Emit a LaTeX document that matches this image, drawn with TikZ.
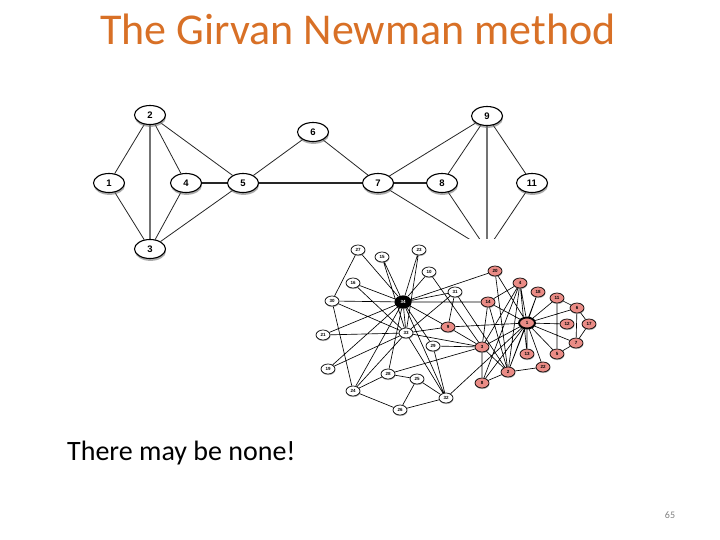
\documentclass[tikz,border=0pt]{standalone}
\usepackage{fontspec}
\setmainfont{Carlito}
\newfontfamily\lblfont{Liberation Sans}
\usepackage{xcolor}
\usepackage{tikz}
\usetikzlibrary{shapes.geometric, shadows, backgrounds}
\definecolor{titleorange}{RGB}{216,112,38}
\definecolor{clubred}{RGB}{234,140,134}

\begin{document}
\begin{tikzpicture}[
      x=1pt, y=-1pt,
      vtx/.style={ellipse, draw=black, fill=white, line width=1.1pt, minimum width=31pt,
        minimum height=19pt, inner sep=0pt, font=\lblfont\bfseries\fontsize{9.5}{9.5}\selectfont,
        drop shadow={shadow xshift=0.5pt, shadow yshift=-2.4pt, fill=black!55, opacity=.6}},
      kw/.style={ellipse, draw=black, fill=white, line width=0.7pt, minimum width=14pt,
        minimum height=10pt, inner sep=0pt, font=\lblfont\bfseries\fontsize{4.5}{4.5}\selectfont,
        drop shadow={shadow xshift=0.4pt, shadow yshift=-1.1pt, fill=black!50, opacity=.55}},
      kr/.style={kw, fill=clubred},
      lnk/.style={draw=black!85, line width=0.8pt},
      bold/.style={draw=black!85, line width=1.3pt},
      heavy/.style={draw=black!55, line width=1.9pt},
      klnk/.style={draw=black, line width=0.65pt}
    ]
      \useasboundingbox (0,0) rectangle (720,540);
      \node[font=\fontsize{44}{44}\selectfont, text=titleorange, anchor=base] (title) at (358,45) {The Girvan Newman method};
      \node[font=\fontsize{28}{28}\selectfont, anchor=base west, inner sep=0pt] (note) at (67,460) {There may be none!};
      \node[font=\fontsize{10}{10}\selectfont, text=black!50, anchor=base] (pg) at (670,518) {65};

      \node[vtx] (n1) at (109,183) {1};
      \node[vtx] (n2) at (150,115) {2};
      \node[vtx] (n3) at (150,249) {3};
      \node[vtx] (n4) at (186,183) {4};
      \node[vtx] (n5) at (243,183) {5};
      \node[vtx] (n6) at (313,132) {6};
      \node[vtx] (n7) at (378,183) {7};
      \node[vtx] (n8) at (442,183) {8};
      \node[vtx] (n9) at (487,116) {9};
      \node[vtx] (n11) at (532,183) {11};
      \coordinate (n10) at (487,250);

      \node[kr, line width=1.9pt, minimum width=16pt, minimum height=11pt] (k1) at (527,323) {1};
      \node[kr] (k2) at (508,372) {2};
      \node[kr] (k3) at (482,347) {3};
      \node[kr] (k4) at (520,283) {4};
      \node[kr] (k5) at (557,354) {5};
      \node[kr] (k6) at (577,308) {6};
      \node[kr] (k7) at (576,343) {7};
      \node[kr] (k8) at (482,383) {8};
      \node[kr] (k9) at (448,327) {9};
      \node[kw] (k10) at (429,272) {10};
      \node[kr] (k11) at (557,298) {11};
      \node[kr] (k12) at (567,324) {12};
      \node[kr] (k13) at (527,354) {13};
      \node[kr] (k14) at (488,302) {14};
      \node[kw] (k15) at (382,257) {15};
      \node[kw] (k16) at (353,283) {16};
      \node[kr] (k17) at (589,324) {17};
      \node[kr] (k18) at (538,292) {18};
      \node[kw] (k19) at (328,369) {19};
      \node[kr] (k20) at (495,271) {20};
      \node[kw] (k21) at (323,335) {21};
      \node[kr] (k22) at (543,367) {22};
      \node[kw] (k23) at (419,250) {23};
      \node[kw] (k24) at (353,391) {24};
      \node[kw] (k25) at (417,379) {25};
      \node[kw] (k26) at (400,410) {26};
      \node[kw] (k27) at (358,250) {27};
      \node[kw] (k28) at (388,374) {28};
      \node[kw] (k29) at (433,346) {29};
      \node[kw] (k30) at (332,301) {30};
      \node[kw] (k31) at (455,292) {31};
      \node[kw] (k32) at (446,398) {32};
      \node[kw] (k33) at (406,333) {33};
      \node[kw, fill=black, text=white, line width=1.2pt, minimum width=16pt, minimum height=12pt] (k34) at (403,302) {34};

      \begin{scope}[on background layer]
        \draw[lnk] (n1) -- (n2) (n1) -- (n3) (n2) -- (n4) (n2) -- (n5) (n3) -- (n4)
          (n3) -- (n5) (n5) -- (n6) (n6) -- (n7) (n7) -- (n9) (n8) -- (n9) (n9) -- (n11);
        \draw[heavy] (n2) -- (n3);
        \draw[bold] (n4) -- (n5) (n5) -- (n7) (n7) -- (n8);
        \begin{scope}
          \clip (0,0) rectangle (720,238);
          \draw[lnk] (n7) -- (n10) (n8) -- (n10) (n11) -- (n10);
          \draw[heavy] (n9) -- (n10);
        \end{scope}
        \draw[klnk] (k1) -- (k2) (k1) -- (k3) (k1) -- (k4) (k1) -- (k5) (k1) -- (k6)
          (k1) -- (k7) (k1) -- (k8) (k1) -- (k9) (k1) -- (k11) (k1) -- (k12)
          (k1) -- (k13) (k1) -- (k14) (k1) -- (k18) (k1) -- (k20) (k1) -- (k22)
          (k1) -- (k32) (k2) -- (k3) (k2) -- (k4) (k2) -- (k8) (k2) -- (k14)
          (k2) -- (k18) (k2) -- (k20) (k2) -- (k22) (k2) -- (k31) (k3) -- (k4)
          (k3) -- (k8) (k3) -- (k9) (k3) -- (k10) (k3) -- (k14) (k3) -- (k28)
          (k3) -- (k29) (k3) -- (k33) (k4) -- (k8) (k4) -- (k13) (k4) -- (k14)
          (k5) -- (k7) (k5) -- (k11) (k6) -- (k7) (k6) -- (k11) (k6) -- (k17)
          (k7) -- (k17) (k9) -- (k31) (k9) -- (k33) (k9) -- (k34) (k10) -- (k34)
          (k14) -- (k34) (k15) -- (k33) (k15) -- (k34) (k16) -- (k33) (k16) -- (k34)
          (k19) -- (k33) (k19) -- (k34) (k20) -- (k34) (k21) -- (k33) (k21) -- (k34)
          (k23) -- (k33) (k23) -- (k34) (k24) -- (k26) (k24) -- (k28) (k24) -- (k30)
          (k24) -- (k33) (k24) -- (k34) (k25) -- (k26) (k25) -- (k28) (k25) -- (k32)
          (k26) -- (k32) (k27) -- (k30) (k27) -- (k34) (k28) -- (k34) (k29) -- (k32)
          (k29) -- (k34) (k30) -- (k33) (k30) -- (k34) (k31) -- (k33) (k31) -- (k34)
          (k32) -- (k33) (k32) -- (k34) (k33) -- (k34);
      \end{scope}
    \end{tikzpicture}
\end{document}
